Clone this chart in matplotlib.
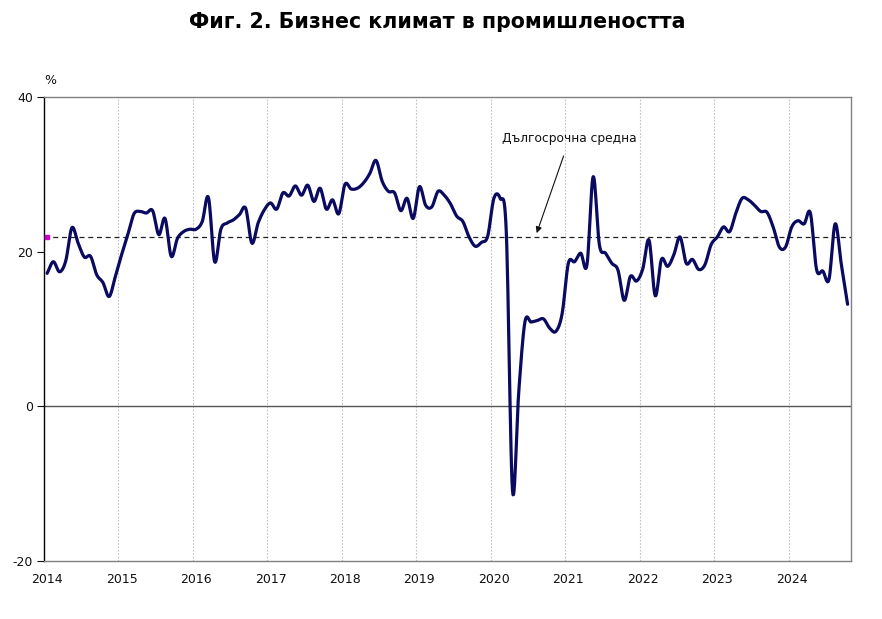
import numpy as np
import matplotlib
matplotlib.use("Agg")
import matplotlib.pyplot as plt

# Monthly values, Jan 2014 - Oct 2024 (%)
values_2014 = [17.2, 18.7, 17.4, 18.8, 23.1, 21.1, 19.3, 19.4, 17.0, 16.0, 14.2, 16.8]
values_2015 = [19.6, 22.2, 24.9, 25.2, 25.0, 25.3, 22.2, 24.3, 19.4, 21.7, 22.6, 22.9]
values_2016 = [22.9, 23.9, 27.0, 18.7, 22.9, 23.7, 24.1, 24.8, 25.6, 21.1, 23.7, 25.4]
values_2017 = [26.3, 25.5, 27.6, 27.2, 28.5, 27.3, 28.6, 26.5, 28.2, 25.5, 26.7, 24.9]
values_2018 = [28.7, 28.1, 28.2, 28.9, 30.1, 31.8, 29.1, 27.8, 27.6, 25.3, 26.9, 24.3]
values_2019 = [28.4, 26.0, 25.8, 27.8, 27.3, 26.2, 24.6, 23.9, 21.9, 20.7, 21.2, 22.0]
values_2020 = [26.9, 26.9, 22.5, -10.9, 1.8, 10.9, 10.9, 11.1, 11.3, 10.1, 9.7, 12.0]
values_2021 = [18.5, 18.7, 19.8, 18.3, 29.7, 20.9, 19.8, 18.5, 17.6, 13.7, 16.8, 16.2]
values_2022 = [17.8, 21.5, 14.3, 19.0, 18.1, 19.6, 21.9, 18.5, 19.0, 17.7, 18.3, 20.9]
values_2023 = [21.9, 23.2, 22.6, 25.0, 26.9, 26.7, 26.0, 25.2, 25.1, 23.2, 20.6, 20.6]
values_2024 = [23.2, 24.0, 23.6, 25.0, 17.7, 17.5, 16.4, 23.6, 18.3, 13.2]

long_term_avg = 21.9
years = list(range(2014, 2025))
y_ticks = [40, 20, 0, -20]

title = "Фиг. 2. Бизнес климат в промишлеността"
annot_text = "Дългосрочна средна"

values = np.array(values_2014 + values_2015 + values_2016 + values_2017 + values_2018
                  + values_2019 + values_2020 + values_2021 + values_2022 + values_2023
                  + values_2024)
n = len(values)
x = np.arange(n)


def catmull_rom(xs, ys, steps=12):
    px = np.concatenate([[2 * xs[0] - xs[1]], xs, [2 * xs[-1] - xs[-2]]])
    py = np.concatenate([[2 * ys[0] - ys[1]], ys, [2 * ys[-1] - ys[-2]]])
    out_x, out_y = [], []
    t = np.linspace(0, 1, steps, endpoint=False)
    for i in range(1, len(px) - 2):
        p0, p1, p2, p3 = py[i - 1], py[i], py[i + 1], py[i + 2]
        q0, q1, q2, q3 = px[i - 1], px[i], px[i + 1], px[i + 2]
        t2, t3 = t * t, t * t * t
        yy = 0.5 * ((2 * p1) + (-p0 + p2) * t + (2 * p0 - 5 * p1 + 4 * p2 - p3) * t2
                    + (-p0 + 3 * p1 - 3 * p2 + p3) * t3)
        xx = 0.5 * ((2 * q1) + (-q0 + q2) * t + (2 * q0 - 5 * q1 + 4 * q2 - q3) * t2
                    + (-q0 + 3 * q1 - 3 * q2 + q3) * t3)
        out_x.extend(xx)
        out_y.extend(yy)
    out_x.append(xs[-1])
    out_y.append(ys[-1])
    return np.array(out_x), np.array(out_y)


fig = plt.figure(figsize=(8.82, 6.19), dpi=100)
ax = fig.add_axes([0.0499, 0.0937, 0.9146, 0.7496])

sx, sy = catmull_rom(x.astype(float), values.astype(float))

# year gridlines (category boundaries)
for k in range(1, len(years)):
    ax.axvline(12 * k - 0.5, color="#c0c0c0", lw=0.8, ls=(0, (1.5, 1.5)), zorder=1)

ax.axhline(0, color="#555555", lw=1.0, zorder=2)
ax.plot([-0.5, n - 0.5], [long_term_avg, long_term_avg], color="#222222", lw=0.9,
        ls=(0, (4, 3)), zorder=3)
ax.plot([0], [long_term_avg], marker="s", ms=2.5, color="#cc00cc", zorder=4,
        clip_on=False)

ax.plot(sx, sy, color="#0a0a60", lw=2.3, solid_capstyle="round",
        solid_joinstyle="round", zorder=5)

ax.set_xlim(-0.5, n - 0.5)
ax.set_ylim(-20, 40)
ax.set_yticks(y_ticks)
ax.set_yticklabels([str(v) for v in y_ticks])
ax.set_xticks([12 * k for k in range(len(years))])
ax.set_xticklabels([str(yv) for yv in years])
ax.tick_params(axis="x", length=0, pad=9, labelsize=9, colors="#111111")
ax.tick_params(axis="y", length=5, width=0.8, pad=3, labelsize=9, direction="out",
               colors="#111111")

for s in ["top", "right", "bottom"]:
    ax.spines[s].set_color("#808080")
    ax.spines[s].set_linewidth(1.0)
ax.spines["left"].set_color("#000000")
ax.spines["left"].set_linewidth(1.0)

fig.text(0.496, 0.965, title, ha="center", va="center", fontsize=14.8,
         fontweight="bold", color="#000000")
ax.text(0.0, 1.035, "%", transform=ax.transAxes, ha="left", va="center",
        fontsize=9, color="#111111")

ax.annotate(annot_text, xy=(78.9, 22.4), xytext=(84.2, 34.6),
            ha="center", va="center", fontsize=8.8, color="#111111",
            arrowprops=dict(arrowstyle="-|>", color="#111111", lw=0.8,
                            shrinkA=6, shrinkB=0, mutation_scale=9))

fig.savefig("out.png", dpi=100, facecolor="white")
